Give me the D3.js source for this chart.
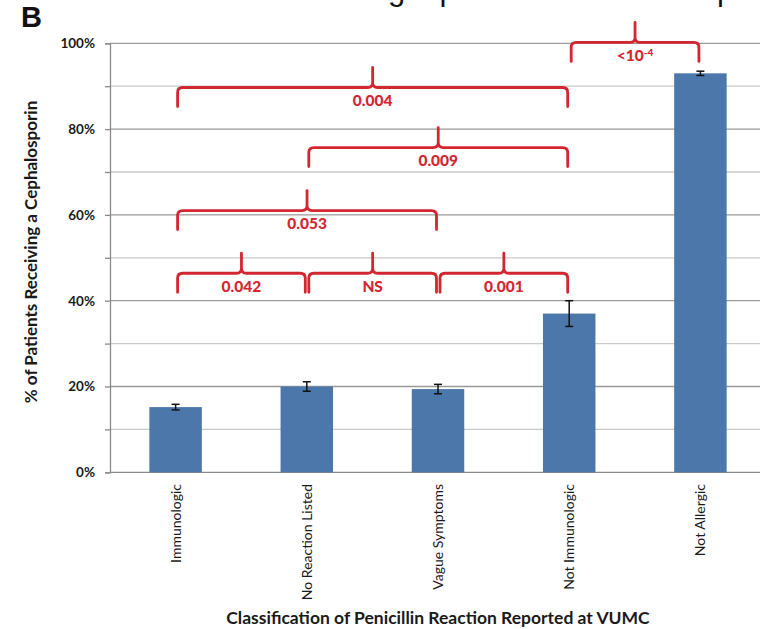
<!DOCTYPE html>
<html>
<head>
<meta charset="utf-8">
<script src="https://cdn.jsdelivr.net/npm/d3@7"></script>
<style>
  html, body { margin: 0; padding: 0; background: #fff; }
  svg { display: block; }
</style>
</head>
<body>
<svg id="chart" width="760" height="629"></svg>
<script>
// Cephalosporin receipt by penicillin reaction classification
const categories = ["Immunologic", "No Reaction Listed", "Vague Symptoms", "Not Immunologic", "Not Allergic"];
const percentReceiving = [15.2, 20.0, 19.4, 37.0, 93.0];
const errorMargin = [0.65, 1.1, 1.1, 3.0, 0.5];

const gridValues = [0, 10, 20, 30, 40, 50, 60, 70, 80, 90, 100];
const tickLabelValues = [0, 20, 40, 60, 80, 100];

// Pairwise comparisons (bar index from / to, bracket height in %, p-value text)
const compareFrom  = [0, 1, 2, 0, 1, 0, 3];
const compareTo    = [1, 2, 3, 2, 3, 3, 4];
const compareLevel = [46.4, 46.4, 46.4, 61.0, 75.7, 89.7, 100.2];
const compareLabel = ["0.042", "NS", "0.001", "0.053", "0.009", "0.004", "<10|-4"];

const svg = d3.select("#chart");
const FONT = "Lato, 'Open Sans', sans-serif";
const RED = "#d42630";

const x = d3.scaleBand()
  .domain(categories)
  .range([110, 766])
  .paddingInner(0.6)
  .paddingOuter(0.3);

const y = d3.scaleLinear().domain([0, 100]).range([472.3, 43.3]);

// Heading running off the top edge
svg.append("text")
  .attr("x", 269).attr("y", 0)
  .attr("font-family", "'Liberation Sans', Arial, sans-serif")
  .attr("font-size", 31)
  .attr("fill", "#111")
  .text("Receiving a penicillin-class or cephalosporin antibiotic");

// Panel letter
svg.append("text")
  .attr("x", 21).attr("y", 26.5)
  .attr("font-family", "'Liberation Sans', Arial, sans-serif")
  .attr("font-weight", "bold")
  .attr("font-size", 29)
  .attr("fill", "#111")
  .text("B");

// Gridlines
svg.append("g").selectAll("line")
  .data(gridValues.filter(v => v > 0))
  .join("line")
  .attr("x1", 110).attr("x2", 760)
  .attr("y1", d => y(d)).attr("y2", d => y(d))
  .attr("stroke", d => d % 20 === 0 ? "#9a9a9a" : "#c9c9c9")
  .attr("stroke-width", 1.3);

// Y axis
const yAxis = d3.axisLeft(y)
  .tickValues(gridValues)
  .tickSize(5)
  .tickPadding(10)
  .tickFormat(d => tickLabelValues.includes(d) ? d + "%" : "");
const gy = svg.append("g").attr("transform", "translate(110,0)").call(yAxis);
gy.select(".domain").attr("stroke", "#8a8a8a").attr("stroke-width", 1.3);
gy.selectAll(".tick line").attr("stroke", "#8a8a8a").attr("stroke-width", 1.3);
gy.selectAll(".tick text")
  .attr("font-family", FONT).attr("font-weight", "bold")
  .attr("font-size", 13.5).attr("fill", "#1a1a1a");

// Baseline
svg.append("line")
  .attr("x1", 110).attr("x2", 760)
  .attr("y1", y(0)).attr("y2", y(0))
  .attr("stroke", "#8a8a8a").attr("stroke-width", 1.3);

// Bars
svg.append("g").selectAll("rect")
  .data(categories)
  .join("rect")
  .attr("x", d => x(d))
  .attr("width", x.bandwidth())
  .attr("y", (d, i) => y(percentReceiving[i]))
  .attr("height", (d, i) => y(0) - y(percentReceiving[i]))
  .attr("fill", "#4c77aa");

// Error bars
const eb = svg.append("g").attr("stroke", "#111").attr("stroke-width", 1.5);
categories.forEach((c, i) => {
  const cx = x(c) + x.bandwidth() / 2;
  const hi = y(percentReceiving[i] + errorMargin[i]);
  const lo = y(percentReceiving[i] - errorMargin[i]);
  eb.append("line").attr("x1", cx).attr("x2", cx).attr("y1", hi).attr("y2", lo);
  eb.append("line").attr("x1", cx - 4).attr("x2", cx + 4).attr("y1", hi).attr("y2", hi);
  eb.append("line").attr("x1", cx - 4).attr("x2", cx + 4).attr("y1", lo).attr("y2", lo);
});

// Comparison braces
const center = i => x(categories[i]) + x.bandwidth() / 2;
const braces = svg.append("g");
compareFrom.forEach((from, k) => {
  const x1 = center(from) + 2;
  const x2 = center(compareTo[k]) - 1.5;
  const xm = (x1 + x2) / 2;
  const yh = y(compareLevel[k]);
  const leg = 19, peak = 20, r = 5;
  const p = d3.path();
  p.moveTo(x1, yh + leg);
  p.lineTo(x1, yh + r);
  p.quadraticCurveTo(x1, yh, x1 + r, yh);
  p.lineTo(xm - r, yh);
  p.quadraticCurveTo(xm, yh, xm, yh - r);
  p.lineTo(xm, yh - peak);
  p.moveTo(xm, yh - r);
  p.quadraticCurveTo(xm, yh, xm + r, yh);
  p.lineTo(x2 - r, yh);
  p.quadraticCurveTo(x2, yh, x2, yh + r);
  p.lineTo(x2, yh + leg);
  braces.append("path")
    .attr("d", p.toString())
    .attr("fill", "none")
    .attr("stroke", RED)
    .attr("stroke-width", 2.8)
    .attr("stroke-linecap", "round")
    .attr("stroke-linejoin", "round");

  const t = braces.append("text")
    .attr("x", xm).attr("y", yh + 18.5)
    .attr("text-anchor", "middle")
    .attr("font-family", FONT).attr("font-weight", "900")
    .attr("font-size", 15.5).attr("fill", RED);
  const parts = compareLabel[k].split("|");
  t.append("tspan").text(parts[0]);
  if (parts[1]) {
    t.append("tspan").attr("font-size", 10).attr("dy", -5).text(parts[1]);
  }
});

// Category labels
svg.append("g").selectAll("text")
  .data(categories)
  .join("text")
  .attr("transform", d => `translate(${x(d) + x.bandwidth() / 2 + 5},484) rotate(-90)`)
  .attr("text-anchor", "end")
  .attr("font-family", FONT)
  .attr("font-size", 14)
  .attr("fill", "#1a1a1a")
  .text(d => d);

// Axis titles
svg.append("text")
  .attr("x", 438).attr("y", 624)
  .attr("text-anchor", "middle")
  .attr("font-family", FONT).attr("font-weight", "bold")
  .attr("font-size", 17.5).attr("fill", "#1a1a1a")
  .text("Classification of Penicillin Reaction Reported at VUMC");

svg.append("text")
  .attr("transform", "translate(37,252) rotate(-90)")
  .attr("text-anchor", "middle")
  .attr("font-family", FONT).attr("font-weight", "bold")
  .attr("font-size", 17).attr("fill", "#1a1a1a")
  .text("% of Patients Receiving a Cephalosporin");
</script>
</body>
</html>
